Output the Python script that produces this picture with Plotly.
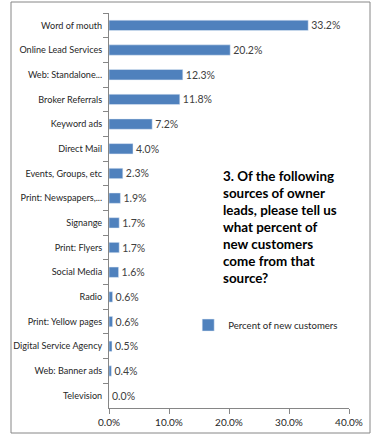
import plotly.graph_objects as go

categories = [
    "Word of mouth", "Online Lead Services", "Web: Standalone...", "Broker Referrals",
    "Keyword ads", "Direct Mail", "Events, Groups, etc", "Print: Newspapers,...",
    "Signange", "Print: Flyers", "Social Media", "Radio", "Print: Yellow pages",
    "Digital Service Agency", "Web: Banner ads", "Television",
]
values = [33.2, 20.2, 12.3, 11.8, 7.2, 4.0, 2.3, 1.9, 1.7, 1.7, 1.6, 0.6, 0.6, 0.5, 0.4, 0.0]
series_name = "Percent of new customers"
x_ticks = [0, 10, 20, 30, 40]
x_tick_labels = ["0.0%", "10.0%", "20.0%", "30.0%", "40.0%"]
title_lines = ["3. Of the following", "sources of owner", "leads, please tell us",
               "what percent of", "new customers", "come from that", "source?"]

FONT = "Lato, 'Liberation Sans', Arial, sans-serif"
BLUE = "#4F81BD"
GRAY = "#868686"

fig = go.Figure(go.Bar(
    x=values, y=categories, orientation="h", name=series_name,
    marker=dict(color=BLUE),
    texttemplate="%{x:.1f}%", textposition="outside", cliponaxis=False,
    constraintext="none",
    textfont=dict(family=FONT, size=10.5, color="#404040"),
))

# plot area: x 109..349 px, y 13..408 px
def px_x(p):
    return (p - 109) / 240

def px_y(p):
    return (408 - p) / 395

annotations = [dict(
    text=line, xref="paper", yref="paper",
    x=px_x(221), y=px_y(175.5 + 17 * i), xanchor="left", yanchor="middle",
    align="left", showarrow=False,
    font=dict(family=FONT, size=13.4, color="black", weight="bold"),
) for i, line in enumerate(title_lines)]

fig.update_layout(
    width=373, height=436,
    margin=dict(l=109, r=24, t=13, b=28),
    paper_bgcolor="white", plot_bgcolor="white",
    bargap=0.58,
    font=dict(family=FONT, size=10, color="#262626"),
    showlegend=True,
    legend=dict(x=0.33, y=0.21, xanchor="left", yanchor="middle",
                font=dict(family=FONT, size=9.6, color="#262626"),
                bgcolor="rgba(0,0,0,0)", itemwidth=30),
    xaxis=dict(range=[0, 40], tickvals=x_ticks, ticktext=x_tick_labels,
               showgrid=False, zeroline=False, showline=True, linecolor=GRAY,
               ticks="outside", ticklen=5, tickcolor=GRAY, automargin=False,
               tickfont=dict(family=FONT, size=10, color="#262626")),
    yaxis=dict(autorange="reversed", showgrid=False, zeroline=False,
               showline=True, linecolor=GRAY, ticks="outside", ticklen=5,
               tickcolor=GRAY, tickson="boundaries", automargin=False,
               ticklabelstandoff=4,
               tickfont=dict(family=FONT, size=9.1, color="#262626")),
    annotations=annotations,
    shapes=[dict(
        type="rect", xref="paper", yref="paper",
        x0=px_x(11), x1=px_x(370), y0=px_y(433), y1=px_y(2),
        line=dict(color=GRAY, width=1), fillcolor="rgba(0,0,0,0)", layer="below",
    )],
)

fig.write_html("out.html", config={"displayModeBar": False},
               post_script="document.body.style.margin='0';")
